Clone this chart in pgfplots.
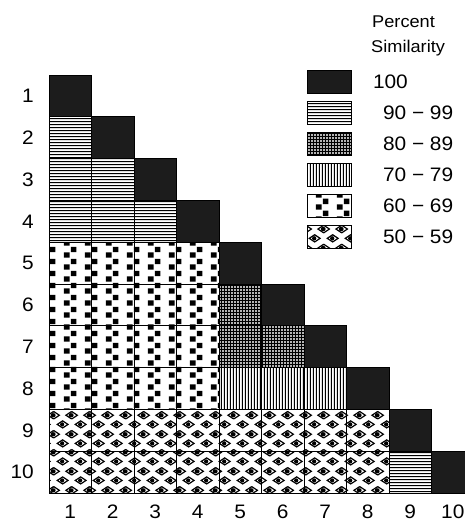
\documentclass[border=0pt]{standalone}
\usepackage{pgfplots}
\pgfplotsset{compat=1.18}
\usepackage{fontspec}
\setmainfont[FakeStretch=1.07]{Liberation Sans}
\usetikzlibrary{patterns}

\definecolor{cellblack}{RGB}{28,28,28}

% fill patterns of the similarity classes
\pgfdeclarepatternformonly{simhl}{\pgfpointorigin}{\pgfpoint{3.3pt}{3.3pt}}{\pgfpoint{3.3pt}{3.3pt}}{%
  \pgfsetlinewidth{1pt}%
  \pgfpathmoveto{\pgfpoint{-0.2pt}{1.65pt}}\pgfpathlineto{\pgfpoint{3.5pt}{1.65pt}}%
  \pgfusepath{stroke}}
\pgfdeclarepatternformonly{simvl}{\pgfpointorigin}{\pgfpoint{3.3pt}{3.3pt}}{\pgfpoint{3.3pt}{3.3pt}}{%
  \pgfsetlinewidth{1pt}%
  \pgfpathmoveto{\pgfpoint{1.65pt}{-0.2pt}}\pgfpathlineto{\pgfpoint{1.65pt}{3.5pt}}%
  \pgfusepath{stroke}}
\pgfdeclarepatternformonly{simgrid}{\pgfpointorigin}{\pgfpoint{3.4pt}{3.4pt}}{\pgfpoint{3.4pt}{3.4pt}}{%
  \pgfsetlinewidth{1.3pt}%
  \pgfpathmoveto{\pgfpoint{-0.2pt}{1.7pt}}\pgfpathlineto{\pgfpoint{3.6pt}{1.7pt}}%
  \pgfpathmoveto{\pgfpoint{1.7pt}{-0.2pt}}\pgfpathlineto{\pgfpoint{1.7pt}{3.6pt}}%
  \pgfusepath{stroke}}
\pgfdeclarepatternformonly{simsq}{\pgfpointorigin}{\pgfpoint{21pt}{12pt}}{\pgfpoint{21pt}{12pt}}{%
  \pgfpathrectangle{\pgfpoint{1pt}{0.3pt}}{\pgfpoint{5.8pt}{5.6pt}}%
  \pgfpathrectangle{\pgfpoint{8pt}{6.3pt}}{\pgfpoint{5.8pt}{5.6pt}}%
  \pgfusepath{fill}}
\def\eyeshape#1#2{%
  \pgfpathmoveto{\pgfpoint{#1pt-5.6pt}{#2pt}}%
  \pgfpathlineto{\pgfpoint{#1pt}{#2pt+3.6pt}}%
  \pgfpathlineto{\pgfpoint{#1pt+5.6pt}{#2pt}}%
  \pgfpathlineto{\pgfpoint{#1pt}{#2pt-3.6pt}}%
  \pgfpathclose\pgfusepath{stroke}%
  \pgfpathcircle{\pgfpoint{#1pt-0.5pt}{#2pt}}{2.2pt}\pgfusepath{fill}}
\pgfdeclarepatternformonly{simeye}{\pgfpointorigin}{\pgfpoint{18pt}{18.6pt}}{\pgfpoint{18pt}{18.6pt}}{%
  \pgfsetlinewidth{1.2pt}%
  \eyeshape{9}{4.65}\eyeshape{0}{13.95}\eyeshape{18}{13.95}}

\pgfplotsset{
  simcell/.style={only marks, mark=square*, mark size=21.25pt,
    mark options={draw=black, line width=1pt, yscale=0.9835, #1},
    legend image code/.code={\draw[black, line width=1pt, #1] (0pt,-11.5pt) rectangle (44pt,11.5pt);}},
}

\begin{document}
\begin{tikzpicture}
\begin{axis}[
  name=ax,
  scale only axis, width=425pt, height=418pt,
  xmin=0.5, xmax=10.5, ymin=0.5, ymax=10.5,
  y dir=reverse,
  xtick={1,...,10}, ytick={1,...,10},
  axis line style={draw=none},
  major tick length=0pt,
  tick label style={font=\fontsize{19.5}{22}\selectfont},
  xticklabel style={inner sep=0pt, anchor=north, yshift=-12pt},
  yticklabel style={inner sep=0pt, anchor=east, xshift=-15pt},
  /pgf/number format/assume math mode=true,
  clip=false,
  legend cell align=left,
  legend style={draw=none, fill=none, inner sep=0pt, outer sep=0pt,
    at={(axis description cs:0.6071,1.012)}, anchor=north west,
    row sep=7pt, column sep=21pt,
    font=\fontsize{19.5}{22}\selectfont, nodes={inner sep=0pt}},
]
% cell (column,row) of each similarity class
\addplot[simcell={fill=cellblack}] coordinates {
  (1,1) (2,2) (3,3) (4,4) (5,5) (6,6) (7,7) (8,8) (9,9) (10,10)};
\addlegendentry{100}
\addplot[simcell={pattern=simhl}] coordinates {
  (1,2) (1,3) (2,3) (1,4) (2,4) (3,4) (9,10)};
\addlegendentry{\hspace{10pt}90 − 99}
\addplot[simcell={pattern=simgrid}] coordinates {
  (5,6) (5,7) (6,7)};
\addlegendentry{\hspace{10pt}80 − 89}
\addplot[simcell={pattern=simvl}] coordinates {
  (5,8) (6,8) (7,8)};
\addlegendentry{\hspace{10pt}70 − 79}
\addplot[simcell={pattern=simsq}] coordinates {
  (1,5) (2,5) (3,5) (4,5)
  (1,6) (2,6) (3,6) (4,6)
  (1,7) (2,7) (3,7) (4,7)
  (1,8) (2,8) (3,8) (4,8)};
\addlegendentry{\hspace{10pt}60 − 69}
\addplot[simcell={pattern=simeye}] coordinates {
  (1,9) (2,9) (3,9) (4,9) (5,9) (6,9) (7,9) (8,9)
  (1,10) (2,10) (3,10) (4,10) (5,10) (6,10) (7,10) (8,10)};
\addlegendentry{\hspace{10pt}50 − 59}
\end{axis}
\node[anchor=base west, font=\fontsize{17}{20}\selectfont, inner sep=0pt] at ([xshift=323pt,yshift=47pt]ax.north west) {Percent};
\node[anchor=base west, font=\fontsize{17}{20}\selectfont, inner sep=0pt] at ([xshift=322pt,yshift=22pt]ax.north west) {Similarity};
\pgfresetboundingbox
\path ([xshift=-49pt,yshift=-29pt]ax.south west) rectangle ++(464pt,522pt);
\end{tikzpicture}
\end{document}
